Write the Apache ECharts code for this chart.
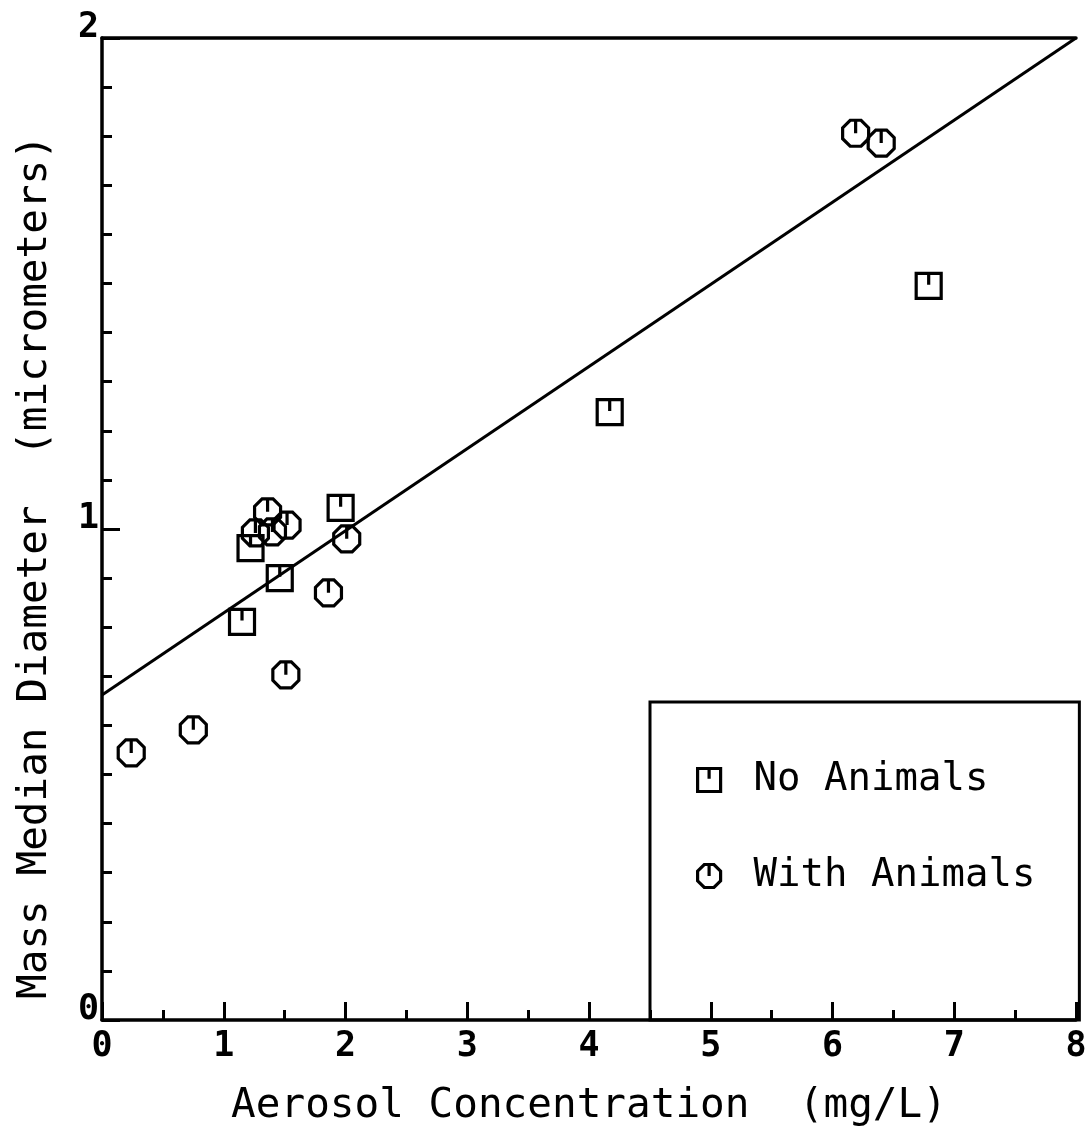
<!DOCTYPE html>
<html><head><meta charset="utf-8">
<script src="https://cdn.jsdelivr.net/npm/echarts@6/dist/echarts.min.js"></script>
<style>html,body{margin:0;padding:0;background:#fff}#c{width:1092px;height:1144px}</style>
</head><body><div id="c"></div>
<script>
// Data
const noAnimalsX = [1.15, 1.22, 1.46, 1.96, 4.17, 6.79];
const noAnimalsY = [0.811, 0.961, 0.900, 1.043, 1.238, 1.495];
const withAnimalsX = [0.24, 0.75, 1.51, 1.86, 2.01, 1.36, 1.26, 1.40, 1.52, 6.19, 6.40];
const withAnimalsY = [0.544, 0.591, 0.703, 0.870, 0.980, 1.035, 0.992, 0.994, 1.008, 1.806, 1.786];
const fitX = [0, 8];
const fitY = [0.662, 2.0];
const xTicks = [0, 1, 2, 3, 4, 5, 6, 7, 8];
const yTicks = [0, 1, 2];

const FONT = 'DejaVu Sans Mono';
const octagon = 'path://M29 0 L71 0 L100 29 L100 71 L71 100 L29 100 L0 71 L0 29 Z M50 0 L50 50';
const square = 'path://M0 0 L100 0 L100 100 L0 100 Z M50 0 L50 45';

const zip = (a, b) => a.map((v, i) => [v, b[i]]);
const chart = echarts.init(document.getElementById('c'));
const markerStyle = { color: 'rgba(0,0,0,0)', borderColor: '#000', borderWidth: 3.2, opacity: 1 };
const LW = 3.5;

chart.setOption({
  animation: false,
  backgroundColor: '#fff',
  grid: { left: 102, top: 38, right: 16, bottom: 124 },
  xAxis: [{
    type: 'value', min: 0, max: 8, interval: 1,
    axisLine: { onZero: false, lineStyle: { color: '#000', width: LW } },
    axisTick: { inside: true, length: 18, lineStyle: { color: '#000', width: 3 } },
    minorTick: { show: true, splitNumber: 2, length: 10, lineStyle: { color: '#000', width: 3 } },
    splitLine: { show: false },
    axisLabel: { color: '#000', fontFamily: FONT, fontSize: 35, fontWeight: 'bold', margin: 9,
      formatter: v => xTicks.includes(v) ? String(v) : '' },
    name: 'Aerosol Concentration  (mg/L)', nameLocation: 'middle', nameGap: 66,
    nameTextStyle: { color: '#000', fontFamily: FONT, fontSize: 41 }
  }, {
    type: 'value', min: 0, max: 8, position: 'top',
    axisLine: { show: true, onZero: false, lineStyle: { color: '#000', width: LW } },
    axisTick: { show: false }, axisLabel: { show: false }, splitLine: { show: false }
  }],
  yAxis: {
    type: 'value', min: 0, max: 2, interval: 1,
    axisLine: { onZero: false, lineStyle: { color: '#000', width: LW } },
    axisTick: { inside: true, length: 18, lineStyle: { color: '#000', width: 3 } },
    minorTick: { show: true, splitNumber: 10, length: 10, lineStyle: { color: '#000', width: 3 } },
    splitLine: { show: false },
    axisLabel: { color: '#000', fontFamily: FONT, fontSize: 35, fontWeight: 'bold', margin: 3,
      verticalAlign: 'bottom', lineHeight: 20,
      formatter: v => yTicks.includes(v) ? String(v) : '' },
    name: 'Mass Median Diameter  (micrometers)', nameLocation: 'middle', nameGap: 46,
    nameTextStyle: { color: '#000', fontFamily: FONT, fontSize: 41, padding: [0, 76, 0, 0] }
  },
  legend: {
    left: 650, top: 702, orient: 'vertical',
    padding: [58, 44, 124, 46],
    borderColor: '#000', borderWidth: 3,
    itemWidth: 23, itemHeight: 23, itemGap: 56,
    textStyle: { color: '#000', fontFamily: FONT, fontSize: 39, lineHeight: 40, padding: [0, 0, 0, 28] },
    data: [
      { name: 'No Animals', icon: square, itemStyle: markerStyle },
      { name: 'With Animals', icon: octagon, itemStyle: markerStyle }
    ]
  },
  series: [
    { name: 'fit', type: 'line', data: zip(fitX, fitY), showSymbol: false,
      lineStyle: { color: '#000', width: 3 }, silent: true },
    { name: 'No Animals', type: 'scatter', symbol: square, symbolSize: 25,
      data: zip(noAnimalsX, noAnimalsY), itemStyle: markerStyle },
    { name: 'With Animals', type: 'scatter', symbol: octagon, symbolSize: 26,
      data: zip(withAnimalsX, withAnimalsY), itemStyle: markerStyle }
  ]
});
</script></body></html>
